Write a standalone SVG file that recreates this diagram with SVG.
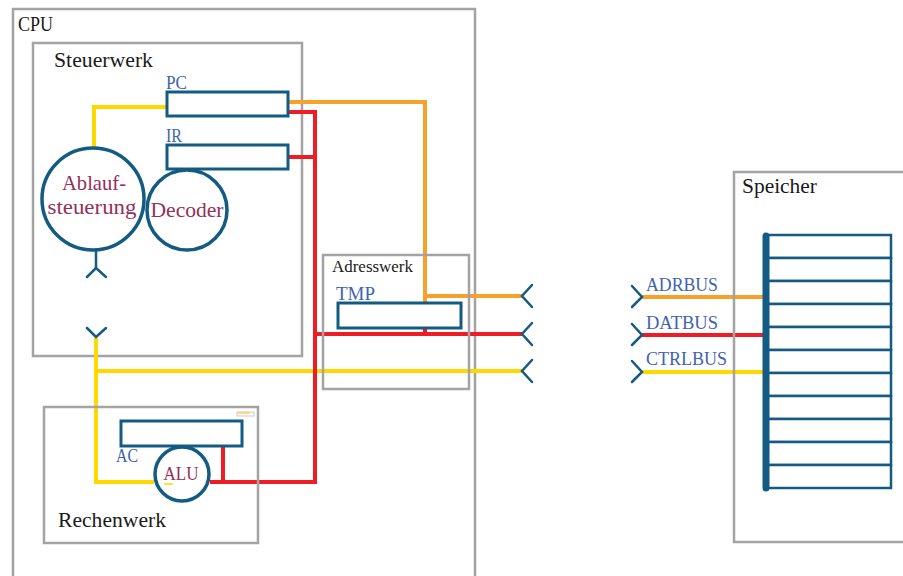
<svg xmlns="http://www.w3.org/2000/svg" width="903" height="576" viewBox="0 0 903 576">
<style>
.box{fill:none;stroke:#a3a3a3;stroke-width:2.5}
.reg{fill:#fff;stroke:#135b83;stroke-width:3}
.circ{fill:#fff;stroke:#135b83;stroke-width:3.5}
.fork{fill:none;stroke:#135b83;stroke-width:2.5;stroke-linecap:round;stroke-linejoin:miter}
.y{fill:none;stroke:#ffd800;stroke-width:4}
.o{fill:none;stroke:#f7a02a;stroke-width:4}
.r{fill:none;stroke:#ee1c25;stroke-width:4}
.t{font-family:"Liberation Serif","DejaVu Serif",serif;fill:#1a1a1a;font-size:21px}
.b{font-family:"Liberation Serif","DejaVu Serif",serif;fill:#3f63b0;font-size:18px}
.m{font-family:"Liberation Serif","DejaVu Serif",serif;fill:#943058;font-size:21px;text-anchor:middle}
.cell{fill:#fff;stroke:#135b83;stroke-width:2.5}
</style>

<g id="cpu">
<rect class="box" x="13" y="9" width="462" height="580"/>
<text class="t" x="18" y="31" textLength="35" lengthAdjust="spacingAndGlyphs">CPU</text>
</g>

<g id="steuerwerk">
<rect class="box" x="33" y="43" width="269" height="313"/>
<text class="t" x="54" y="67" textLength="99" lengthAdjust="spacingAndGlyphs">Steuerwerk</text>
</g>

<g id="connectors">
<polyline class="y" points="167,107 94,107 94,148"/>
<polyline class="y" points="96,338 96,482 154,482"/>
<line class="y" x1="96" y1="371" x2="522" y2="371"/>
<line class="y" x1="642" y1="372" x2="766" y2="372"/>
<polyline class="o" points="288,102 425,102 425,303"/>
<line class="o" x1="425" y1="296" x2="522" y2="296"/>
<line class="o" x1="642" y1="297" x2="766" y2="297"/>
<polyline class="r" points="288,112 315,112 315,482 210,482"/>
<line class="r" x1="288" y1="157" x2="315" y2="157"/>
<line class="r" x1="223" y1="446" x2="223" y2="482"/>
<line class="r" x1="315" y1="334" x2="522" y2="334"/>
<line class="r" x1="425" y1="328" x2="425" y2="334"/>
<line class="r" x1="642" y1="335" x2="766" y2="335"/>
<polyline class="fork" points="96,250 96,268"/>
<polyline class="fork" points="87,277 96,268 106,277"/>
<polyline class="fork" points="87,328 96,337 106,328"/>
<polyline class="fork" points="532,285 522,296 532,307"/>
<polyline class="fork" points="532,323 522,334 532,345"/>
<polyline class="fork" points="532,360 522,371 532,382"/>
<polyline class="fork" points="632,286 642,297 632,307"/>
<polyline class="fork" points="632,324 642,335 632,345"/>
<polyline class="fork" points="632,361 642,372 632,382"/>
</g>

<g id="pc">
<rect class="reg" x="167" y="92" width="121" height="24"/>
<text class="b" x="166" y="89" textLength="21" lengthAdjust="spacingAndGlyphs">PC</text>
</g>

<g id="ir">
<rect class="reg" x="167" y="145" width="121" height="24"/>
<text class="b" x="166" y="142" textLength="16" lengthAdjust="spacingAndGlyphs">IR</text>
</g>

<g id="ablaufsteuerung">
<circle class="circ" cx="93" cy="199" r="51"/>
<text class="m" x="94" y="190" textLength="64" lengthAdjust="spacingAndGlyphs">Ablauf-</text>
<text class="m" x="92" y="214" textLength="89" lengthAdjust="spacingAndGlyphs">steuerung</text>
</g>

<g id="decoder">
<circle class="circ" cx="187" cy="210" r="40"/>
<text class="m" x="187" y="217" textLength="73" lengthAdjust="spacingAndGlyphs">Decoder</text>
</g>

<g id="adresswerk">
<rect class="box" x="323" y="255" width="146" height="134"/>
<text class="t" x="332" y="272" style="font-size:17px" textLength="81" lengthAdjust="spacingAndGlyphs">Adresswerk</text>
</g>

<g id="tmp">
<rect class="reg" x="338" y="303" width="123" height="25"/>
<text class="b" x="336" y="300" textLength="39" lengthAdjust="spacingAndGlyphs">TMP</text>
</g>

<g id="rechenwerk">
<rect class="box" x="44" y="407" width="214" height="136"/>
<text class="t" x="58" y="527" textLength="108" lengthAdjust="spacingAndGlyphs">Rechenwerk</text>
<rect x="237" y="412" width="17" height="4" fill="none" stroke="#c8c8c8" stroke-width="1"/>
<line x1="238" y1="413" x2="250" y2="413" stroke="#ffd34d" stroke-width="1.5"/>
</g>

<g id="ac">
<rect class="reg" x="121" y="421" width="121" height="25"/>
<text class="b" x="116" y="462" textLength="22" lengthAdjust="spacingAndGlyphs">AC</text>
</g>

<g id="alu">
<circle class="circ" cx="182" cy="474" r="27"/>
<text class="m" x="181" y="480" style="font-size:19px" textLength="35" lengthAdjust="spacingAndGlyphs">ALU</text>
<line x1="164" y1="484" x2="173" y2="484" stroke="#ffd800" stroke-width="1.5"/>
</g>

<g id="speicher">
<rect class="box" x="734" y="172" width="180" height="370"/>
<text class="t" x="742" y="193" textLength="75" lengthAdjust="spacingAndGlyphs">Speicher</text>
<rect class="cell" x="766" y="235" width="125" height="23"/>
<rect class="cell" x="766" y="258" width="125" height="23"/>
<rect class="cell" x="766" y="281" width="125" height="23"/>
<rect class="cell" x="766" y="304" width="125" height="23"/>
<rect class="cell" x="766" y="327" width="125" height="23"/>
<rect class="cell" x="766" y="350" width="125" height="23"/>
<rect class="cell" x="766" y="373" width="125" height="23"/>
<rect class="cell" x="766" y="396" width="125" height="23"/>
<rect class="cell" x="766" y="419" width="125" height="23"/>
<rect class="cell" x="766" y="442" width="125" height="23"/>
<rect class="cell" x="766" y="465" width="125" height="23"/>
<line x1="766" y1="236" x2="766" y2="488" stroke="#135b83" stroke-width="7" stroke-linecap="round"/>
</g>

<g id="buslabels">
<text class="b" x="646" y="291" textLength="72" lengthAdjust="spacingAndGlyphs">ADRBUS</text>
<text class="b" x="646" y="329" textLength="72" lengthAdjust="spacingAndGlyphs">DATBUS</text>
<text class="b" x="646" y="365" textLength="81" lengthAdjust="spacingAndGlyphs">CTRLBUS</text>
</g>
</svg>
